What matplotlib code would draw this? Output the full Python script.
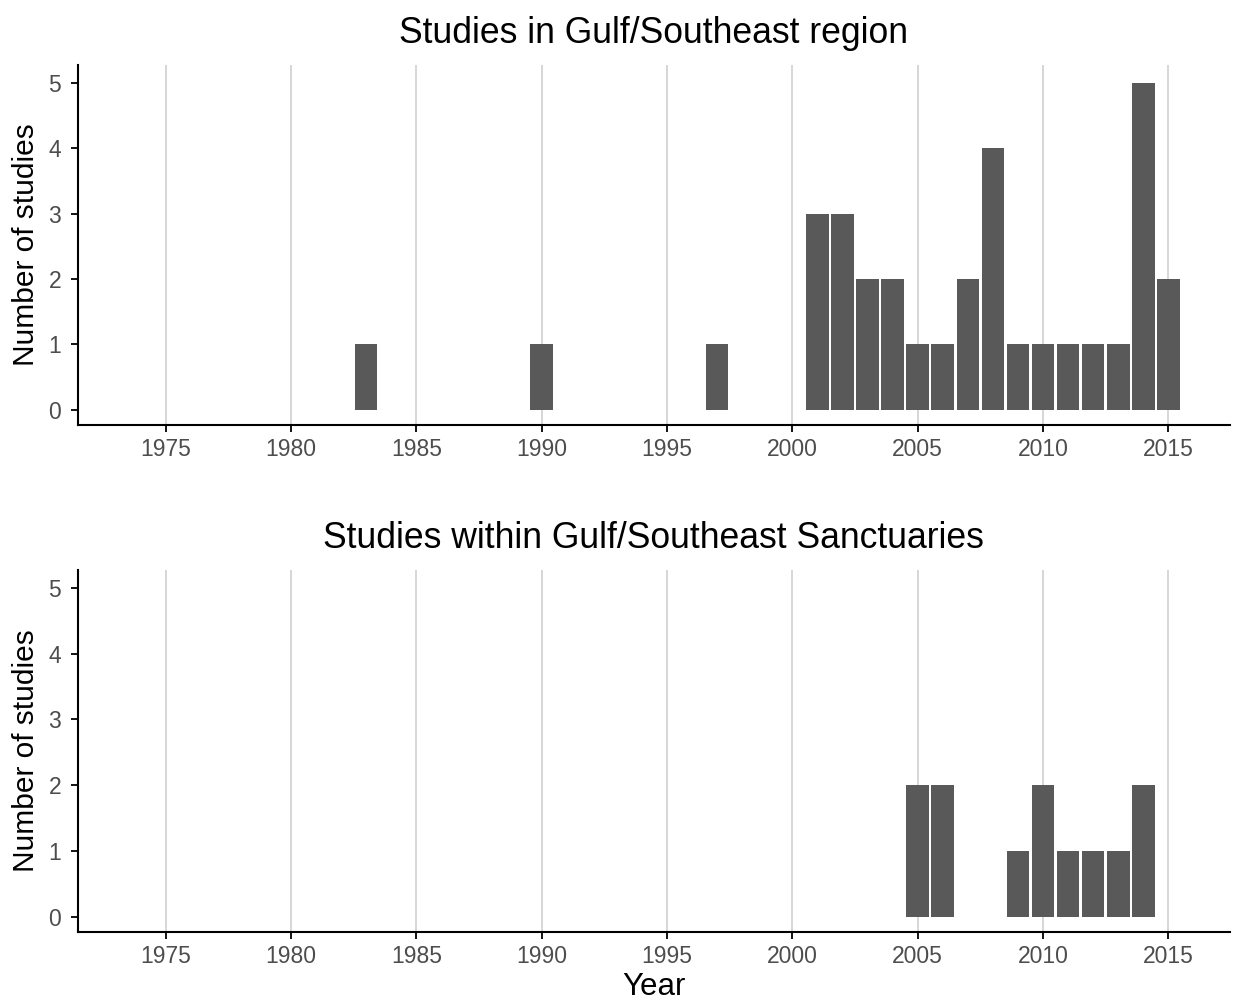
import numpy as np
import matplotlib.pyplot as plt

plt.rcParams['font.family'] = ['Liberation Sans', 'DejaVu Sans']

# studies per year, Gulf/Southeast region
region_years = [1983, 1990, 1997, 2001, 2002, 2003, 2004, 2005, 2006, 2007,
                2008, 2009, 2010, 2011, 2012, 2013, 2014, 2015]
region_counts = [1, 1, 1, 3, 3, 2, 2, 1, 1, 2, 4, 1, 1, 1, 1, 1, 5, 2]

# studies per year within sanctuaries
sanct_years = [2005, 2006, 2009, 2010, 2011, 2012, 2013, 2014]
sanct_counts = [2, 2, 1, 2, 1, 1, 1, 2]

xticks = [1975, 1980, 1985, 1990, 1995, 2000, 2005, 2010, 2015]

fig = plt.figure(figsize=(12.36, 10.02), dpi=100)
ax1 = fig.add_axes([0.063, 0.576, 0.932, 0.359])
ax2 = fig.add_axes([0.063, 0.070, 0.932, 0.361])

panels = [(ax1, region_years, region_counts, 'Studies in Gulf/Southeast region'),
          (ax2, sanct_years, sanct_counts, 'Studies within Gulf/Southeast Sanctuaries')]

for ax, yrs, cnt, title in panels:
    ax.bar(yrs, cnt, width=0.9, color='#595959', zorder=3)
    ax.set_xlim(1971.5, 2017.45)
    ax.set_ylim(-0.23, 5.27)
    ax.set_xticks(xticks)
    ax.set_yticks(range(6))
    ax.grid(axis='x', color='#d0d0d0', linewidth=1.2, zorder=0)
    for s in ['top', 'right']:
        ax.spines[s].set_visible(False)
    for s in ['left', 'bottom']:
        ax.spines[s].set_linewidth(1.5)
    ax.tick_params(labelsize=16.5, labelcolor='#4d4d4d', color='black',
                   length=5, width=1.3)
    ax.tick_params(axis='x', pad=4.5)
    ax.tick_params(axis='y', pad=7)
    ax.set_ylabel('Number of studies', fontsize=21.5, labelpad=6)
    ax.set_title(title, fontsize=25.6, pad=16)

ax2.set_xlabel('Year', fontsize=22.5, labelpad=3)

fig.savefig('out.png', dpi=100)
